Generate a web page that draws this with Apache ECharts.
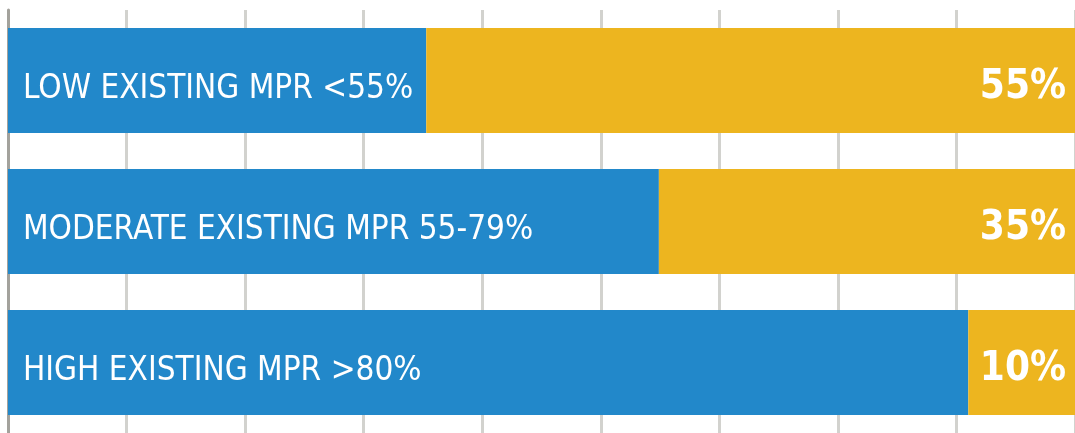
<!DOCTYPE html>
<html>
<head>
<meta charset="utf-8">
<script src="https://cdn.jsdelivr.net/npm/echarts@6/dist/echarts.min.js"></script>
<style>
html,body{margin:0;padding:0;background:#fff;}
#c{width:1075px;height:433px;}
</style>
</head>
<body>
<div id="c"></div>
<script>
// Categories (top to bottom)
var categories = ['LOW EXISTING MPR <55%', 'MODERATE EXISTING MPR 55-79%', 'HIGH EXISTING MPR >80%'];
// Blue segment lengths as drawn (% of bar)
var blueValues = [39.2, 61, 90];
// Yellow segment lengths as drawn (% of bar)
var yellowValues = [60.8, 39, 10];
// Reported share labels shown on yellow segments
var shareLabels = ['55%', '35%', '10%'];

var FONT = "'DejaVu Sans Condensed', 'Noto Sans', sans-serif";
var chart = echarts.init(document.getElementById('c'), null, {renderer: 'canvas'});
chart.setOption({
  animation: false,
  backgroundColor: '#ffffff',
  grid: {left: 8, top: 10, width: 1067, height: 430, containLabel: false},
  xAxis: {
    type: 'value', min: 0, max: 100, interval: 100 / 9,
    axisLine: {show: false}, axisTick: {show: false}, axisLabel: {show: false},
    splitLine: {show: true, lineStyle: {color: '#d2d2ce', width: 3}}
  },
  yAxis: {
    type: 'category', inverse: true, data: categories,
    axisLine: {show: true, lineStyle: {color: '#a3a29c', width: 3}},
    axisTick: {show: false}, axisLabel: {show: false}, splitLine: {show: false}
  },
  series: [
    {
      type: 'bar', stack: 's', data: blueValues, barCategoryGap: '25.5%',
      itemStyle: {color: '#2288ca'},
      label: {
        show: true, position: 'insideLeft', distance: 15, offset: [0, 9],
        color: '#ffffff', fontFamily: FONT, fontSize: 33, fontWeight: 'normal',
        formatter: function (p) { return categories[p.dataIndex]; }
      }
    },
    {
      type: 'bar', stack: 's', data: yellowValues,
      itemStyle: {color: '#edb51f'},
      label: {
        show: true, position: 'insideRight', distance: 9, offset: [0, 7],
        color: '#ffffff', fontFamily: FONT, fontSize: 40, fontWeight: 'bold',
        formatter: function (p) { return shareLabels[p.dataIndex]; }
      }
    }
  ]
});
</script>
</body>
</html>
